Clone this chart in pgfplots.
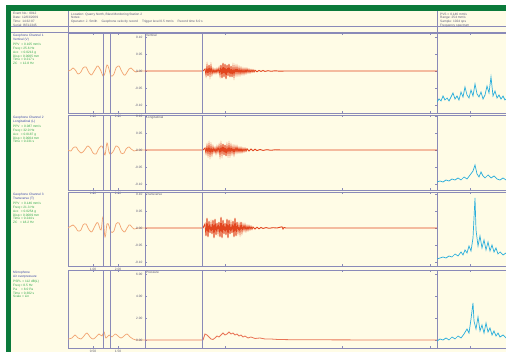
\documentclass[border=0pt]{standalone}
\usepackage{pgfplots}
\pgfplotsset{compat=1.18}
\usepackage{fontspec}
\setmainfont{Liberation Sans}
\definecolor{cream}{HTML}{FFFCE6}
\definecolor{frame}{HTML}{0B7A3B}
\definecolor{lav}{HTML}{8A8AB8}
\definecolor{trc}{HTML}{E2451E}
\definecolor{nrw}{HTML}{F2A472}
\definecolor{spc}{HTML}{2AAEDC}
\definecolor{hdb}{HTML}{3A48A8}
\definecolor{grn}{HTML}{2EA84A}
\definecolor{tk}{HTML}{5A5A78}
\newcommand\tf{\fontsize{3.2}{3.9}\selectfont}
\pgfplotsset{
  base/.style={scale only axis, anchor=south west, axis line style={draw=lav, line width=0.9pt},
    tick style={draw=lav, line width=0.4pt}, tick align=inside, major tick length=2pt,
    ticklabel style={font=\tf, text=tk}, clip=true},
  narrow/.style={base, width=77pt, xmin=0, xmax=77, ytick=\empty, xtick={25,50},
    xticklabels={1.00,2.00}, xticklabel style={yshift=1.5pt}},
  main/.style={base, width=292pt, xmin=0, xmax=292, xtick={80,197,285}, xticklabels={},
    ytick={-34,-17,0,17,34}, yticklabels={-0.10,-0.05,0.00,0.05,0.10}, yticklabel style={xshift=1pt}},
  spec/.style={base, width=72pt, xmin=0, xmax=72, ytick=\empty, xtick={33}, xticklabels={}},
  ntr/.style={nrw, line width=0.7pt, smooth, tension=0.7},
  mtr/.style={trc, line width=0.9pt},
  str/.style={spc, line width=0.7pt},
}
\begin{document}
\begin{tikzpicture}
\path[use as bounding box] (0pt,0pt) rectangle (506pt,352pt);
\fill[white] (0pt,0pt) rectangle (506pt,352pt);
\fill[cream] (11pt,0pt) rectangle (506pt,341pt);
\fill[frame] (6pt,0pt) rectangle (11pt,347pt);
\fill[frame] (6pt,341pt) rectangle (506pt,347pt);
% header
\draw[lav, line width=0.5pt] (11pt,326pt) -- (506pt,326pt);
\draw[lav, line width=0.6pt] (11pt,320pt) -- (506pt,320pt);
\draw[lav, line width=0.5pt] (68pt,341pt) -- (68pt,320pt);
\draw[lav, line width=0.5pt] (437pt,341pt) -- (437pt,320pt);
\node[anchor=north west, inner sep=0, text=tk, align=left, font=\tf] at (13pt,339.5pt)
  {Event No.: 0012 \\ Date: 12/03/2009 \\ Time: 14:32:07 \\ Serial: BE12345};
\node[anchor=north west, inner sep=0, text=tk, align=left, font=\tf] at (71pt,339.5pt)
  {Location: Quarry North, Blast Monitoring Station 2 \\ Notes: \\ Operator: J. Smith \quad Geophone velocity record \quad Trigger level 0.5 mm/s \quad Record time 6.0 s};
\node[anchor=north west, inner sep=0, text=tk, align=left, font=\tf] at (440pt,339.5pt)
  {PVS = 0.146 mm/s \\ Range: 254 mm/s \\ Sample: 1024 sps \\ Frequency spectrum};
%
% ================= ROW 1
\node[anchor=north west, inner sep=0, align=left, font=\tf] at (13pt,318pt)
  {\color{hdb}Geophone Channel 1 \\ \color{hdb}Vertical (V) \\[1pt]
   \color{grn}PPV \;= 0.105 mm/s \\ \color{grn}Freq = 25.6 Hz \\ \color{grn}Acc \;\,= 0.0213 g \\
   \color{grn}Disp = 0.0005 mm \\ \color{grn}Time = 0.217 s \\ \color{grn}ZC \;\;= 12.8 Hz};
\begin{axis}[narrow, at={(68pt,239pt)}, height=80pt, ymin=-42, ymax=38]
\addplot[ntr] coordinates {(0,0) (3,1) (5,3) (8,0) (10,-3) (13,-1) (15,3) (18,4) (20,0) (23,-4) (25,-2) (28,3) (30,5) (33,0) (35,-5) (37,-2) (39,6) (41,2) (43,-5) (46,-3) (48,3) (51,5) (53,1) (56,-4) (58,-3) (61,2) (63,3) (66,0) (68,-1) (71,0) (77,0)};
\draw[lav, line width=0.5pt] (rel axis cs:0.455,0) -- (rel axis cs:0.455,1);
\draw[lav, line width=0.5pt] (rel axis cs:0.545,0) -- (rel axis cs:0.545,1);
\end{axis}
\begin{axis}[main, at={(145pt,239pt)}, height=80pt, ymin=-42, ymax=38]
\addplot[mtr] coordinates {(0,0) (58,0) (60,2) (61,-4) (62,5) (63,-5) (64,6) (65,-4) (66,5) (67,-3) (68,2) (69,-2) (70,1.5) (71,-2) (72,2) (73,-1.5) (74,3) (75,-4) (76,6) (77,-7) (78,8) (79,-6) (80,7) (81,-8) (82,6) (83,-5) (84,7) (85,-6) (86,5) (87,-6) (88,4) (89,-5) (90,4) (91,-3) (92,4) (93,-3) (94,3) (95,-3) (96,2.5) (97,-2.5) (98,2) (99,-2.5) (100,2) (101,-2) (102,2) (103,-1.5) (104,1.5) (105,-1.5) (106,1.2) (107,-1) (108,1) (109,-1) (110,0.8) (112,-0.8) (114,0.6) (116,-0.5) (118,0.5) (120,-0.4) (123,0.3) (126,-0.3) (130,0.2) (135,-0.2) (140,0) (292,0)};
\draw[lav, line width=0.5pt] (rel axis cs:0.195,0) -- (rel axis cs:0.195,1);
\node[anchor=north west, inner sep=1pt, font=\tf, text=tk] at (rel axis cs:0,1) {Vertical};
\end{axis}
\begin{axis}[spec, at={(437pt,239pt)}, height=80pt, ymin=-9, ymax=71]
\addplot[str] coordinates {(0,2) (2,5) (4,3) (6,8) (8,4) (10,6) (12,3) (14,7) (16,11) (18,5) (20,8) (22,4) (24,12) (26,7) (28,17) (30,9) (32,6) (34,14) (36,8) (38,20) (40,10) (42,7) (44,12) (46,5) (48,9) (50,18) (52,11) (54,27) (56,8) (58,13) (60,6) (62,9) (64,5) (66,8) (68,4) (70,6) (72,3)};
\end{axis}
%
% ================= ROW 2
\node[anchor=north west, inner sep=0, align=left, font=\tf] at (13pt,236pt)
  {\color{hdb}Geophone Channel 2 \\ \color{hdb}Longitudinal (L) \\[1pt]
   \color{grn}PPV \;= 0.087 mm/s \\ \color{grn}Freq = 32.0 Hz \\ \color{grn}Acc \;\,= 0.0187 g \\
   \color{grn}Disp = 0.0004 mm \\ \color{grn}Time = 0.231 s};
\begin{axis}[narrow, at={(68pt,162pt)}, height=75pt, ymin=-40, ymax=35]
\addplot[ntr] coordinates {(0,0) (3,-1) (5,2) (8,3) (10,0) (13,-3) (15,-2) (18,2) (20,4) (23,1) (25,-3) (28,-4) (30,0) (33,4) (35,2) (37,-5) (39,7) (41,-2) (43,-4) (46,0) (48,4) (51,2) (53,-3) (56,-3) (58,1) (61,3) (63,1) (66,-1) (70,0) (77,0)};
\draw[lav, line width=0.5pt] (rel axis cs:0.455,0) -- (rel axis cs:0.455,1);
\draw[lav, line width=0.5pt] (rel axis cs:0.545,0) -- (rel axis cs:0.545,1);
\end{axis}
\begin{axis}[main, at={(145pt,162pt)}, height=75pt, ymin=-40, ymax=35]
\addplot[mtr] coordinates {(0,0) (58,0) (60,2) (61,-3) (62,4) (63,-4) (64,5) (65,-5) (66,4) (67,-4) (68,3) (69,-2) (70,2) (71,-3) (72,3) (73,-2) (74,4) (75,-5) (76,5) (77,-4) (78,6) (79,-5) (80,5) (81,-6) (82,4) (83,-4) (84,5) (85,-4) (86,4) (87,-3) (88,3) (89,-4) (90,3) (91,-2) (92,3) (93,-2) (94,2) (95,-2) (96,2) (97,-2) (98,1.5) (99,-1.5) (100,1.5) (101,-1.2) (102,1.2) (104,-1) (106,1) (108,-0.8) (110,0.8) (112,-0.6) (115,0.5) (118,-0.4) (122,0.3) (126,-0.3) (130,0.2) (136,0) (292,0)};
\draw[lav, line width=0.5pt] (rel axis cs:0.195,0) -- (rel axis cs:0.195,1);
\node[anchor=north west, inner sep=1pt, font=\tf, text=tk] at (rel axis cs:0,1) {Longitudinal};
\end{axis}
\begin{axis}[spec, at={(437pt,162pt)}, height=75pt, ymin=-7, ymax=68]
\addplot[str] coordinates {(0,1) (3,2) (6,1) (9,3) (12,2) (15,4) (18,3) (21,5) (24,3) (27,6) (30,4) (33,8) (36,12) (38,18) (40,9) (42,6) (44,11) (46,7) (48,5) (51,8) (54,5) (57,7) (60,4) (63,3) (66,5) (69,3) (72,2)};
\end{axis}
%
% ================= ROW 3
\node[anchor=north west, inner sep=0, align=left, font=\tf] at (13pt,159pt)
  {\color{hdb}Geophone Channel 3 \\ \color{hdb}Transverse (T) \\[1pt]
   \color{grn}PPV \;= 0.146 mm/s \\ \color{grn}Freq = 21.3 Hz \\ \color{grn}Acc \;\,= 0.0254 g \\
   \color{grn}Disp = 0.0009 mm \\ \color{grn}Time = 0.244 s \\ \color{grn}ZC \;\;= 18.2 Hz};
\begin{axis}[narrow, at={(68pt,86pt)}, height=74pt, ymin=-38, ymax=36]
\addplot[ntr] coordinates {(0,0) (3,2) (5,3) (8,0) (10,-3) (13,-2) (15,3) (18,4) (20,0) (23,-4) (25,-2) (28,4) (30,5) (33,-2) (35,11) (37,-9) (39,4) (41,2) (43,-4) (46,-3) (48,4) (51,5) (53,0) (56,-4) (58,-2) (61,3) (63,2) (66,-1) (70,0) (77,0)};
\draw[lav, line width=0.5pt] (rel axis cs:0.455,0) -- (rel axis cs:0.455,1);
\draw[lav, line width=0.5pt] (rel axis cs:0.545,0) -- (rel axis cs:0.545,1);
\end{axis}
\begin{axis}[main, at={(145pt,86pt)}, height=74pt, ymin=-38, ymax=36]
\addplot[mtr] coordinates {(0,0) (58,0) (60,4) (61,-8) (62,10) (63,-9) (64,7) (65,-5) (66,4) (67,-6) (68,8) (69,-10) (70,9) (71,-7) (72,5) (73,-4) (74,6) (75,-9) (76,11) (77,-10) (78,8) (79,-6) (80,5) (81,-7) (82,9) (83,-10) (84,8) (85,-6) (86,4) (87,-5) (88,7) (89,-9) (90,10) (91,-8) (92,6) (93,-4) (94,3) (95,-5) (96,6) (97,-4) (98,3) (99,-2) (100,3) (101,-2.5) (102,2) (103,-2) (104,2) (105,-1.5) (106,1.5) (107,-1.2) (108,1) (110,-1) (112,0.8) (114,-0.8) (116,0.6) (118,-0.5) (121,0.4) (124,-0.3) (128,0.3) (132,0) (137,1.2) (138,-1) (139,0.5) (141,0) (292,0)};
\draw[lav, line width=0.5pt] (rel axis cs:0.195,0) -- (rel axis cs:0.195,1);
\node[anchor=north west, inner sep=1pt, font=\tf, text=tk] at (rel axis cs:0,1) {Transverse};
\end{axis}
\begin{axis}[spec, at={(437pt,86pt)}, height=74pt, ymin=-6, ymax=68]
\addplot[str] coordinates {(0,1) (3,2) (6,3) (9,2) (12,4) (15,3) (18,6) (21,4) (24,8) (26,5) (28,10) (30,7) (32,14) (34,9) (36,22) (38,62) (39,30) (41,14) (43,24) (45,12) (47,20) (49,10) (51,18) (53,9) (55,15) (57,8) (59,12) (61,6) (63,8) (66,5) (69,7) (72,4)};
\end{axis}
%
% ================= ROW 4
\node[anchor=north west, inner sep=0, align=left, font=\tf] at (13pt,81pt)
  {\color{hdb}Microphone \\ \color{hdb}Air overpressure \\[1pt]
   \color{grn}PSPL = 112 dB(L) \\ \color{grn}Freq = 8.5 Hz \\ \color{grn}Pa \;\;\, = 8.0 Pa \\
   \color{grn}Time = 0.302 s \\ \color{grn}Scale = Lin};
\begin{axis}[narrow, at={(68pt,4pt)}, height=78pt, ymin=-8, ymax=70, xticklabels={0.50,1.50}]
\addplot[ntr] coordinates {(0,1) (4,2) (7,5) (10,2) (13,1) (16,4) (19,7) (22,3) (25,1) (28,3) (31,6) (34,4) (36,8) (38,2) (41,5) (44,3) (47,6) (50,4) (53,2) (56,4) (59,6) (62,3) (65,1) (68,0) (77,0)};
\draw[lav, line width=0.5pt] (rel axis cs:0.455,0) -- (rel axis cs:0.455,1);
\draw[lav, line width=0.5pt] (rel axis cs:0.545,0) -- (rel axis cs:0.545,1);
\end{axis}
\begin{axis}[main, at={(145pt,4pt)}, height=78pt, ymin=-8, ymax=70, ytick={0,22,44,66}, yticklabels={0.00,2.00,4.00,6.00}]
\addplot[trc!75!white, line width=0.8pt] coordinates {(0,0) (58,0) (60,6) (62,5) (64,3) (66,1) (68,0.5) (70,2) (72,4) (74,3) (76,5) (78,7) (80,5) (82,6) (84,8) (86,6) (88,7) (90,5) (92,6) (94,4) (96,5) (98,3) (100,4) (103,2) (106,3) (110,1.5) (115,2) (120,1) (126,1) (133,0.5) (140,0.4) (150,0.2) (170,0.2) (200,0.1) (292,0)};
\draw[lav, line width=0.5pt] (rel axis cs:0.195,0) -- (rel axis cs:0.195,1);
\node[anchor=north west, inner sep=1pt, font=\tf, text=tk] at (rel axis cs:0,1) {Pressure};
\end{axis}
\begin{axis}[spec, at={(437pt,4pt)}, height=78pt, ymin=-5, ymax=73]
\addplot[str] coordinates {(0,2) (3,4) (6,3) (9,5) (12,3) (15,6) (18,4) (21,7) (24,5) (27,9) (30,14) (32,10) (34,24) (36,40) (37,22) (39,14) (41,26) (43,12) (45,18) (47,10) (49,20) (51,11) (53,15) (55,8) (57,12) (59,7) (61,10) (63,6) (66,8) (69,5) (72,4)};
\end{axis}
\end{tikzpicture}
\end{document}
